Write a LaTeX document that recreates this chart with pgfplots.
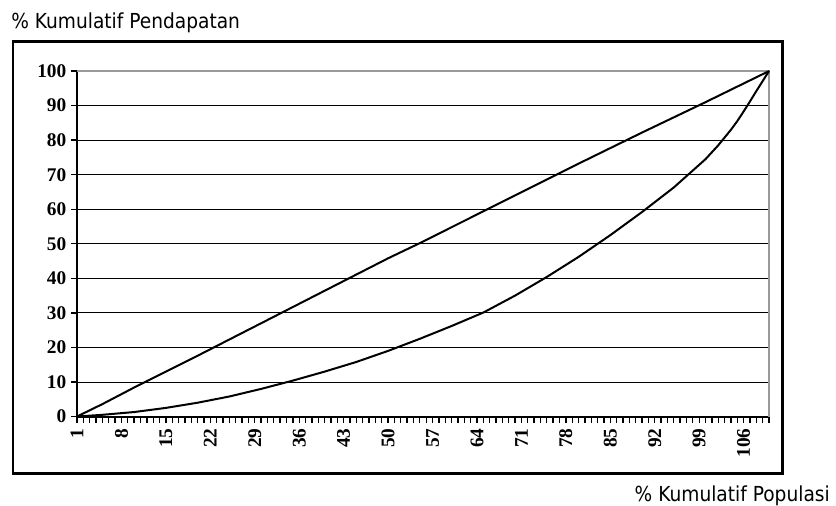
\documentclass[border=0pt]{standalone}
\usepackage{pgfplots}
\pgfplotsset{compat=1.18}
\usepackage{fontspec}
\setmainfont{Liberation Serif}
\newfontfamily\tahoma[FakeStretch=0.9]{DejaVu Sans}

\begin{document}
\begin{tikzpicture}
% 1 px of the reference = 0.75pt
\useasboundingbox (0pt,0pt) rectangle (627pt,-379.5pt);

% outer chart frame
\draw[line width=2pt] (9.75pt,-31.1pt) rectangle (586.9pt,-355.1pt);

\node[anchor=base west, inner sep=0pt, font=\tahoma\fontsize{15.5}{15.5}\selectfont]
  at (8.25pt,-21.75pt) {\% Kumulatif Pendapatan};
\node[anchor=base east, inner sep=0pt, font=\tahoma\fontsize{15.5}{15.5}\selectfont]
  at (622.5pt,-375.75pt) {\% Kumulatif Populasi};

\begin{axis}[
    at={(57.75pt,-312.4pt)}, anchor=south west,
    scale only axis,
    width=519pt, height=259.1pt,
    xmin=1, xmax=110, ymin=0, ymax=100,
    axis lines=left,
    axis line style={-, line width=1.5pt},
    xtick={1,8,...,106},
    minor xtick={1,...,110},
    ytick={0,10,...,100},
    ymajorgrids,
    major grid style={black, line width=0.7pt},
    tick align=outside,
    major tick length=4.5pt, minor tick length=4.5pt,
    every tick/.style={black, line width=1pt},
    every minor tick/.style={black, line width=1pt},
    /pgf/number format/assume math mode=true,
    tick label style={font=\fontsize{14.5}{14.5}\selectfont\bfseries},
    xticklabel style={rotate=90, anchor=east, xshift=-1pt},
    clip=false,
]
% grey top and right border of the plot area
\draw[gray!80, line width=1pt] (axis cs:1,100) -- (axis cs:110,100) -- (axis cs:110,0);

% upper curve
\addplot[black, line width=1.5pt, line join=round] coordinates {
 (1,0) (5,3.6) (10,8.4) (15,13.0) (20,17.6) (25,22.3) (30,27.0) (35,31.7)
 (40,36.4) (45,41.1) (50,45.8) (55,50.2) (60,54.8) (65,59.4) (70,64.0)
 (75,68.6) (80,73.2) (85,77.7) (90,82.2) (95,86.6) (100,91.0) (105,95.5) (110,100)
};

% lower curve
\addplot[black, line width=1.5pt, line join=round] coordinates {
 (1,0) (5,0.5) (10,1.3) (15,2.5) (20,4.0) (25,5.8) (30,8.0) (35,10.4)
 (40,13.0) (45,15.8) (50,19.0) (55,22.5) (60,26.2) (65,30.1) (70,35.0)
 (75,40.4) (80,46.2) (85,52.5) (90,59.2) (95,66.3) (100,74.5) (102,78.5)
 (104,83.0) (105,85.5) (106,88.3) (107,91.2) (108,94.2) (109,97.1) (110,100)
};
\end{axis}
\end{tikzpicture}
\end{document}
